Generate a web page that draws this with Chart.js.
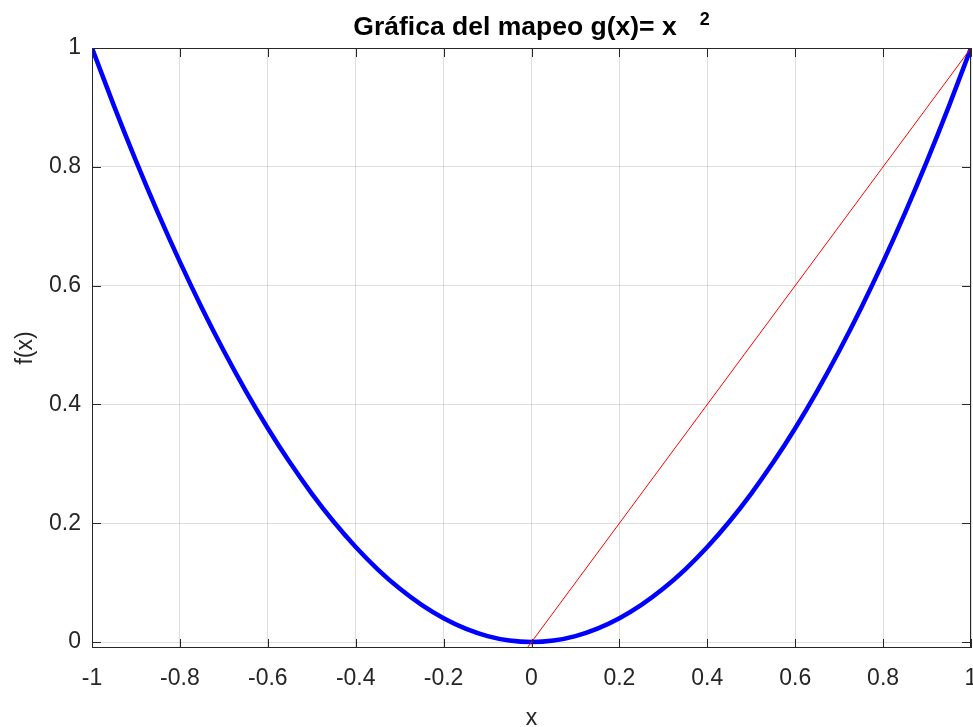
<!DOCTYPE html>
<html>
<head>
<meta charset="utf-8">
<script src="https://cdn.jsdelivr.net/npm/chart.js@4/dist/chart.umd.min.js"></script>
<style>
html,body{margin:0;padding:0;background:#fff;}
#wrap{width:973px;height:727px;position:relative;}
</style>
</head>
<body>
<div id="wrap"><canvas id="c" width="973" height="727"></canvas></div>
<script>
// Data
const xValues = [-1, -0.95, -0.9, -0.85, -0.8, -0.75, -0.7, -0.65, -0.6, -0.55, -0.5, -0.45, -0.4, -0.35, -0.3, -0.25, -0.2, -0.15, -0.1, -0.05, 0,
                 0.05, 0.1, 0.15, 0.2, 0.25, 0.3, 0.35, 0.4, 0.45, 0.5, 0.55, 0.6, 0.65, 0.7, 0.75, 0.8, 0.85, 0.9, 0.95, 1];
const gValues = [1, 0.9025, 0.81, 0.7225, 0.64, 0.5625, 0.49, 0.4225, 0.36, 0.3025, 0.25, 0.2025, 0.16, 0.1225, 0.09, 0.0625, 0.04, 0.0225, 0.01, 0.0025, 0,
                 0.0025, 0.01, 0.0225, 0.04, 0.0625, 0.09, 0.1225, 0.16, 0.2025, 0.25, 0.3025, 0.36, 0.4225, 0.49, 0.5625, 0.64, 0.7225, 0.81, 0.9025, 1];
const idX = [-0.01, 1];
const idY = [-0.01, 1];
const xTicks = [-1, -0.8, -0.6, -0.4, -0.2, 0, 0.2, 0.4, 0.6, 0.8, 1];
const yTicks = [0, 0.2, 0.4, 0.6, 0.8, 1];
const titleMain = 'Gráfica del mapeo g(x)= x';
const titleSup = '2';
const xLabel = 'x';
const yLabel = 'f(x)';

const curve = xValues.map((x, i) => ({x: x, y: gValues[i]}));
const ident = idX.map((x, i) => ({x: x, y: idY[i]}));

const AX = '#262626';
const FONT = 'Liberation Sans, Arial, Helvetica, sans-serif';

const boxPlugin = {
  id: 'box',
  afterDraw(chart) {
    const {ctx, chartArea: a, scales} = chart;
    ctx.save();
    ctx.strokeStyle = AX;
    ctx.lineWidth = 1;
    const tl = 9;
    ctx.beginPath();
    xTicks.forEach(v => {
      const px = Math.round(scales.x.getPixelForValue(v)) + 0.5;
      ctx.moveTo(px, a.bottom); ctx.lineTo(px, a.bottom - tl);
      ctx.moveTo(px, a.top); ctx.lineTo(px, a.top + tl);
    });
    yTicks.forEach(v => {
      const py = Math.round(scales.y.getPixelForValue(v)) + 0.5;
      ctx.moveTo(a.left, py); ctx.lineTo(a.left + tl, py);
      ctx.moveTo(a.right, py); ctx.lineTo(a.right - tl, py);
    });
    ctx.stroke();
    ctx.strokeRect(Math.round(a.left) + 0.5, Math.round(a.top) + 0.5, Math.round(a.right - a.left) - 1, Math.round(a.bottom - a.top) - 1);
    // title with superscript
    ctx.fillStyle = '#000';
    ctx.textBaseline = 'alphabetic';
    ctx.font = 'bold 26.5px ' + FONT;
    const w1 = ctx.measureText(titleMain).width;
    ctx.font = 'bold 18px ' + FONT;
    const w2 = ctx.measureText(titleSup).width;
    const gap = 23;
    const cx = (a.left + a.right) / 2;
    let x0 = cx - (w1 + gap + w2) / 2;
    ctx.font = 'bold 26.5px ' + FONT;
    ctx.textAlign = 'left';
    ctx.fillText(titleMain, x0, 35);
    ctx.font = 'bold 18px ' + FONT;
    ctx.fillText(titleSup, x0 + w1 + gap, 25);
    ctx.restore();
  }
};

new Chart(document.getElementById('c'), {
  type: 'scatter',
  data: {
    datasets: [
      {data: curve, showLine: true, borderColor: '#0000ff', borderWidth: 4.5, pointRadius: 0, cubicInterpolationMode: 'monotone', order: 1},
      {data: ident, showLine: true, borderColor: '#ff0000', borderWidth: 1, pointRadius: 0, tension: 0, order: 0}
    ]
  },
  options: {
    responsive: false,
    animation: false,
    layout: {padding: {top: 48, right: 2, left: 0, bottom: 0}},
    plugins: {legend: {display: false}, tooltip: {enabled: false}, title: {display: false}},
    scales: {
      x: {
        type: 'linear', min: -1, max: 1,
        afterBuildTicks: s => { s.ticks = xTicks.map(v => ({value: v})); },
        afterFit: s => { s.height = 79; s.paddingLeft = 0; s.paddingRight = 0; },
        grid: {color: 'rgba(0,0,0,0.13)', drawTicks: false, tickLength: 0},
        border: {display: false},
        ticks: {color: AX, font: {family: FONT, size: 23}, padding: 17, maxRotation: 0,
                callback: v => String(Number(v.toFixed(1)))},
        title: {display: true, text: xLabel, color: AX, font: {family: FONT, size: 23}, padding: {top: 0, bottom: -5}}
      },
      y: {
        type: 'linear', min: -0.01, max: 1,
        afterBuildTicks: s => { s.ticks = yTicks.map(v => ({value: v})); },
        afterFit: s => { s.width = 92; s.paddingTop = 0; s.paddingBottom = 0; },
        grid: {color: 'rgba(0,0,0,0.13)', drawTicks: false, tickLength: 0},
        border: {display: false},
        ticks: {color: AX, font: {family: FONT, size: 23}, padding: 11,
                callback: v => String(Number(v.toFixed(1)))},
        title: {display: true, text: yLabel, color: AX, font: {family: FONT, size: 23}, padding: {top: 12, bottom: 0}}
      }
    }
  },
  plugins: [boxPlugin]
});
</script>
</body>
</html>
